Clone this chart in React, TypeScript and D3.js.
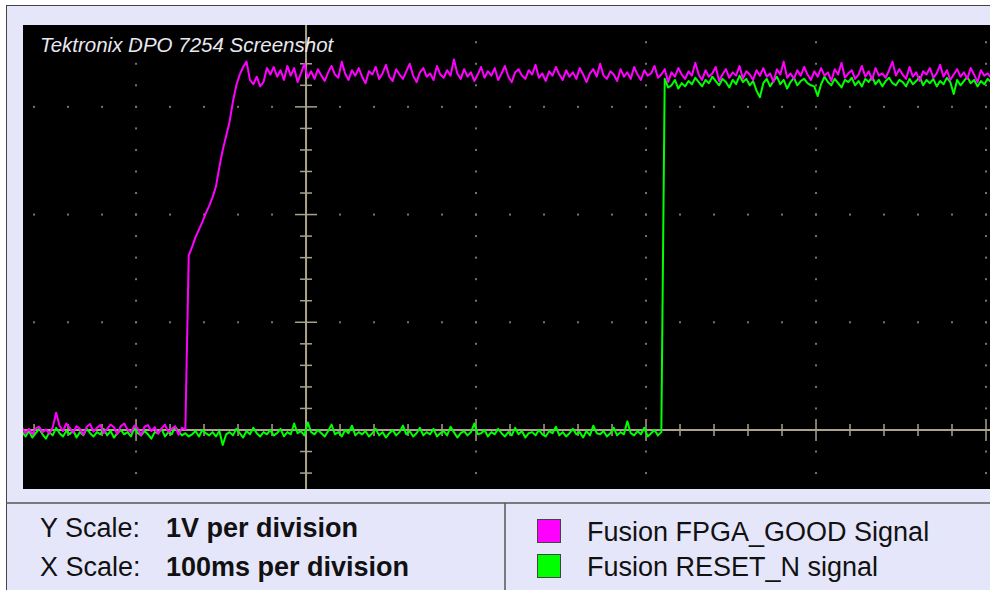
import React from 'react';
import * as d3 from 'd3';

// scope sample clock (ms) - one value every 2ms
const sampleStartMs = -167;
const sampleStepMs = 2;

// CH1: FPGA_GOOD, millivolts
const fpgaGoodMv = [
  // low
  20, -30, 10, -40, 15, 30, -20, 5, -35, 25,
  160, 40, -10, 60, 20, -25, 35, 10, -45, 30,
  55, -15, 20, 45, -30, 10, 50, 25, -40, 35,
  60, 5, -20, 40, 15, -50, 30, 45, -10, 25,
  -35, 15, 50, -20, 10, 35, -45, 20, 5,
  // ramp
  1620, 1700, 1790, 1860, 1930, 2010, 2080, 2160, 2260, 2440,
  2600, 2730, 2860, 3050, 3200, 3300, 3370,
  // high
  3420, 3250, 3210, 3280, 3190, 3230, 3360, 3300, 3370, 3280,
  3340, 3250, 3380, 3290, 3360, 3230, 3310, 3400, 3270, 3330,
  3260, 3350, 3290, 3240, 3320, 3380, 3300, 3270, 3420, 3310,
  3250, 3340, 3290, 3360, 3280, 3220, 3330, 3300, 3370, 3260,
  3310, 3390, 3280, 3240, 3350, 3300, 3260, 3330, 3400, 3290,
  3230, 3320, 3360, 3280, 3310, 3250, 3380, 3300, 3270, 3340,
  3290, 3440, 3310, 3260, 3350, 3280, 3320, 3240, 3300, 3370,
  3270, 3330, 3290, 3360, 3250, 3310, 3380, 3280, 3230, 3320,
  3350, 3290, 3260, 3340, 3300, 3390, 3270, 3310, 3240, 3330,
  3290, 3370, 3300, 3250, 3340, 3280, 3320, 3260, 3360, 3300,
  3230, 3310, 3350, 3280, 3400, 3290, 3260, 3330, 3300, 3240,
  3350, 3280, 3320, 3260, 3370, 3300, 3250, 3340, 3290, 3310,
  3380, 3270, 3300, 3350, 3230, 3320, 3280, 3360, 3300, 3260,
  3330, 3290, 3410, 3300, 3250, 3340, 3280, 3310, 3370, 3240,
  3300, 3350, 3270, 3320, 3290, 3380, 3260, 3330, 3300, 3250,
  3340, 3290, 3360, 3280, 3310, 3230, 3350, 3300, 3420, 3270,
  3310, 3260, 3340, 3290, 3370, 3300, 3250, 3330, 3280, 3360,
  3290, 3320, 3240, 3350, 3300, 3410, 3270, 3310, 3340, 3260,
  3300, 3380, 3280, 3330, 3250, 3360, 3290, 3310, 3270, 3340,
  3420, 3290, 3350, 3300, 3260, 3370, 3280, 3320, 3240, 3330,
  3300, 3360, 3270, 3310, 3390, 3280, 3340, 3250, 3300, 3350,
  3280, 3320, 3260, 3360, 3300, 3230, 3340, 3290, 3310, 3270,
];

// CH2: RESET_N, millivolts
const resetNMv = [
  // low
  -20, -60, -10, -70, -30, 10, -40, -80, -20, -50,
  20, -30, -60, -10, -40, 0, -70, -20, -50, 10,
  -30, -60, -20, -40, 10, -50, -10, -70, -30, 0,
  -40, -20, -60, 20, -30, -50, -10, -40, -80, -20,
  -30, 10, -60, -20, -40, 30, -10, -50, -30, -60,
  -40, -10, -60, 0, -30, -50, -20, -60, -10, -140,
  -40, -20, -50, 10, -30, -70, -10, -40, 20, -30,
  -60, -20, -40, 0, -50, -30, 10, -60, -20, -40,
  60, -30, -10, -50, 70, -20, -40, 0, -30, -60,
  -10, 50, -40, -20, -60, 0, -30, 40, -50, -20,
  -40, -10, -60, -30, 10, -50, -20, -70, -30, 0,
  -50, -20, 40, -40, -10, -60, -30, 20, -50, -20,
  -40, 10, -60, -30, -10, -50, 30, -20, -70, -30,
  -10, -50, -20, 60, -40, -30, 0, -60, -20, -40,
  10, -30, -60, -20, -50, 20, -40, -10, -70, -30,
  -20, -50, 0, -40, -60, -10, -30, 30, -50, -20,
  -60, -30, 10, -40, -20, -70, -10, -50, 40, -30,
  -40, -10, -60, -30, 20, -50, -20, -40, 80, -30,
  -50, -10, -40, 20, -60, -30, 0, -50, -20,
  // high
  3260, 3180, 3200, 3250, 3170, 3220, 3190, 3240, 3210, 3270,
  3230, 3190, 3250, 3220, 3280, 3240, 3200, 3260, 3230, 3180,
  3250, 3210, 3290, 3230, 3260, 3200, 3240, 3150, 3090, 3220,
  3260, 3190, 3240, 3280, 3210, 3250, 3170, 3230, 3270, 3200,
  3240, 3260, 3220, 3200, 3190, 3100, 3210, 3280, 3230, 3200,
  3260, 3220, 3180, 3250, 3230, 3270, 3200, 3240, 3190, 3260,
  3230, 3280, 3210, 3250, 3190, 3240, 3270, 3220, 3200, 3250,
  3230, 3190, 3260, 3210, 3240, 3280, 3200, 3250, 3220, 3260,
  3190, 3240, 3210, 3270, 3230, 3120, 3250, 3200, 3240, 3280,
  3220, 3250, 3190, 3240, 3210, 3260, 3230,
];

const screenTitle = 'Tektronix DPO 7254 Screenshot';
const scaleNames = ['Y Scale:', 'X Scale:'];
const scaleValues = ['1V per division', '100ms per division'];
const legendLabels = ['Fusion FPGA_GOOD Signal', 'Fusion RESET_N signal'];

const W = 990;
const H = 590;
const plot = { left: 23, top: 25, right: 990, bottom: 489 };
const chColors = ['#ff00ff', '#00ff00'];
const gridColor = '#aaa28a';
const dotColor = '#7a755e';

export default function App() {
  const x = d3.scaleLinear().domain([-166.5, 402.35]).range([plot.left, plot.right]);
  const y = d3.scaleLinear().domain([-0.548, 3.76]).range([plot.bottom, plot.top]);

  const line = d3.line<number>()
    .x((_, i) => x(sampleStartMs + i * sampleStepMs))
    .y(d => y(d / 1000));

  const minorT = d3.range(-160, 401, 20);
  const minorV = d3.range(-4, 37, 2).map(d => d / 10);
  const majorT = [-100, 100, 200, 300, 400];
  const majorV = [1, 2, 3];
  const isMajorT = (t: number) => t % 100 === 0;
  const isMajorV = (v: number) => Math.abs(v - Math.round(v)) < 1e-6;

  const font = 'Liberation Sans, Arial, sans-serif';

  return (
    <div style={{ position: 'absolute', left: 0, top: 0 }}>
      <svg width={W} height={H} style={{ display: 'block' }}>
        <rect x={0} y={0} width={W} height={H} fill="#ffffff" />
        <rect x={6.5} y={5.5} width={W + 10} height={H + 10} fill="#e6e6fa" stroke="#444" strokeWidth={1} />

        <rect x={plot.left} y={plot.top} width={plot.right - plot.left} height={plot.bottom - plot.top} fill="#000" />
        <clipPath id="scr">
          <rect x={plot.left} y={plot.top} width={plot.right - plot.left} height={plot.bottom - plot.top} />
        </clipPath>

        <g clipPath="url(#scr)">
          {/* dotted graticule */}
          {majorV.map(v => minorT.map(t => (
            <rect key={`r${v}_${t}`} x={x(t) - 1} y={y(v) - 1} width={2} height={2} fill={dotColor} />
          )))}
          {majorT.map(t => minorV.map(v => (
            <rect key={`c${t}_${v}`} x={x(t) - 1} y={y(v) - 1} width={2} height={2} fill={dotColor} />
          )))}

          {/* center axes with ticks */}
          <line x1={plot.left} x2={plot.right} y1={y(0)} y2={y(0)} stroke={gridColor} strokeWidth={2} />
          <line x1={x(0)} x2={x(0)} y1={plot.top} y2={plot.bottom} stroke={gridColor} strokeWidth={2} />
          {minorT.map(t => {
            const h = isMajorT(t) ? 11 : 6;
            return <line key={`tx${t}`} x1={x(t)} x2={x(t)} y1={y(0) - h} y2={y(0) + h} stroke={gridColor} strokeWidth={1.5} />;
          })}
          {minorV.map(v => {
            const h = isMajorV(v) ? 11 : 6;
            return <line key={`ty${v}`} x1={x(0) - h} x2={x(0) + h} y1={y(v)} y2={y(v)} stroke={gridColor} strokeWidth={1.5} />;
          })}

          {/* traces */}
          <path d={line(resetNMv) || ''} fill="none" stroke={chColors[1]} strokeWidth={2} strokeLinejoin="round" />
          <path d={line(fpgaGoodMv) || ''} fill="none" stroke={chColors[0]} strokeWidth={2} strokeLinejoin="round" />
        </g>

        <text x={40} y={52} fill="#e8e8f0" fontFamily={font} fontStyle="italic" fontSize={20.5}>{screenTitle}</text>

        {/* info panel */}
        <line x1={6} x2={W} y1={503} y2={503} stroke="#555" strokeWidth={1.5} />
        <line x1={505} x2={505} y1={503} y2={H} stroke="#555" strokeWidth={1.5} />

        {scaleNames.map((name, i) => (
          <g key={name} fontFamily={font} fontSize={27} fill="#111">
            <text x={40} y={537 + i * 39}>{name}</text>
            <text x={166} y={537 + i * 39} fontWeight="bold">{scaleValues[i]}</text>
          </g>
        ))}

        {legendLabels.map((label, i) => (
          <g key={label}>
            <rect x={537.5} y={519.5 + i * 35} width={23} height={23} fill={chColors[i]} stroke="#444" strokeWidth={1} />
            <text x={587} y={541 + i * 35} fontFamily={font} fontSize={27} fill="#111">{label}</text>
          </g>
        ))}
      </svg>
    </div>
  );
}
